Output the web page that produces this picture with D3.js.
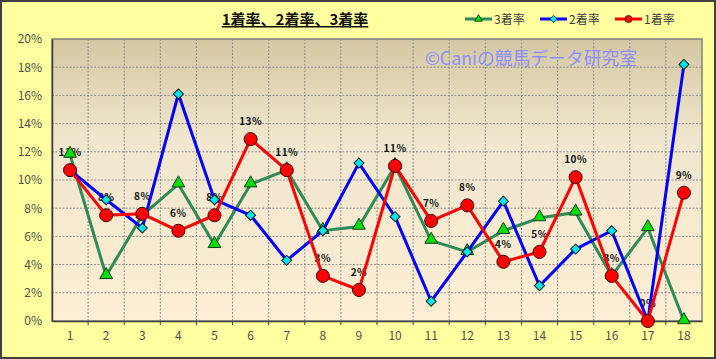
<!DOCTYPE html>
<html>
<head>
<meta charset="utf-8">
<script src="https://cdn.jsdelivr.net/npm/d3@7"></script>
<style>
  body { margin: 0; background: #fff; }
  svg { display: block; }
  text { font-family: "Noto Sans CJK JP", "Noto Sans", sans-serif; }
</style>
</head>
<body>
<div id="chart"></div>
<script>
var categories = [1, 2, 3, 4, 5, 6, 7, 8, 9, 10, 11, 12, 13, 14, 15, 16, 17, 18];
var win1 = [10.7, 7.5, 7.6, 6.4, 7.5, 12.9, 10.7, 3.2, 2.2, 11.0, 7.1, 8.2, 4.2, 4.9, 10.2, 3.2, 0, 9.1];
var win2 = [10.7, 8.6, 6.6, 16.1, 8.6, 7.5, 4.3, 6.4, 11.2, 7.4, 1.4, 4.9, 8.5, 2.5, 5.1, 6.4, 0, 18.2];
var win3 = [11.8, 3.2, 7.5, 9.7, 5.4, 9.7, 10.7, 6.4, 6.7, 11.0, 5.7, 4.9, 6.4, 7.3, 7.7, 3.2, 6.6, 0];
var yTicks = [0, 2, 4, 6, 8, 10, 12, 14, 16, 18, 20];
var seriesNames = ["3着率", "2着率", "1着率"];

var W = 716, H = 359;
var margin = { top: 39, right: 14, bottom: 38, left: 52 };

var svg = d3.select("#chart").append("svg")
  .attr("width", W)
  .attr("height", H);

var defs = svg.append("defs");
var grad = defs.append("linearGradient")
  .attr("id", "plotbg")
  .attr("x1", 0).attr("y1", 0).attr("x2", 0).attr("y2", 1);
grad.append("stop").attr("offset", "0%").attr("stop-color", "#d5c7a2");
grad.append("stop").attr("offset", "35%").attr("stop-color", "#efe6cd");
grad.append("stop").attr("offset", "100%").attr("stop-color", "#fdeed5");

// outer background
svg.append("rect")
  .attr("x", 1).attr("y", 1)
  .attr("width", W - 2).attr("height", H - 2)
  .attr("fill", "#ffff9f")
  .attr("stroke", "#404040")
  .attr("stroke-width", 2);

var pw = W - margin.left - margin.right;
var ph = H - margin.top - margin.bottom;

var x = d3.scaleBand().domain(categories).range([margin.left, margin.left + pw]);
var y = d3.scaleLinear().domain([0, 20]).range([margin.top + ph, margin.top]);
var cx = function (i) { return x(categories[i]) + x.bandwidth() / 2; };

svg.append("rect")
  .attr("x", margin.left).attr("y", margin.top)
  .attr("width", pw).attr("height", ph)
  .attr("fill", "url(#plotbg)")
  .attr("stroke", "#808080")
  .attr("stroke-width", 1.5);

// grid
svg.append("g").selectAll("line")
  .data(yTicks.filter(function (d) { return d > 0 && d < 20; }))
  .join("line")
  .attr("x1", margin.left).attr("x2", margin.left + pw)
  .attr("y1", function (d) { return y(d); })
  .attr("y2", function (d) { return y(d); })
  .attr("stroke", "#8c8c8c")
  .attr("stroke-dasharray", "2,1.5")
  .attr("stroke-width", 1);

svg.append("g").selectAll("line")
  .data(categories.slice(1))
  .join("line")
  .attr("x1", function (d) { return x(d); })
  .attr("x2", function (d) { return x(d); })
  .attr("y1", margin.top).attr("y2", margin.top + ph)
  .attr("stroke", "#8c8c8c")
  .attr("stroke-dasharray", "2,1.5")
  .attr("stroke-width", 1);

// watermark
svg.append("text")
  .attr("x", 425).attr("y", 65)
  .attr("font-size", 18)
  .attr("textLength", 212)
  .attr("lengthAdjust", "spacingAndGlyphs")
  .attr("fill", "#8c8eff")
  .text("©Caniの競馬データ研究室");

// axes
var yAxis = d3.axisLeft(y).tickValues(yTicks).tickSize(0).tickPadding(10)
  .tickFormat(function (d) { return d + "%"; });
var gy = svg.append("g").attr("transform", "translate(" + margin.left + ",0)").call(yAxis);
gy.select(".domain").attr("stroke", "#404040").attr("stroke-width", 1.5);
gy.selectAll("text").attr("font-size", 12).attr("fill", "#505050")
  .attr("font-family", "'Liberation Sans', Arial, sans-serif");

var xAxis = d3.axisBottom(x).tickSize(0).tickPadding(10);
var gx = svg.append("g").attr("transform", "translate(0," + (margin.top + ph) + ")").call(xAxis);
gx.select(".domain").attr("stroke", "#404040").attr("stroke-width", 1.5);
gx.selectAll("text").attr("font-size", 12).attr("fill", "#505050")
  .attr("font-family", "'Liberation Sans', Arial, sans-serif");
// small tick marks at category boundaries
svg.append("g").selectAll("line")
  .data(categories.slice(1))
  .join("line")
  .attr("x1", function (d) { return x(d); })
  .attr("x2", function (d) { return x(d); })
  .attr("y1", margin.top + ph).attr("y2", margin.top + ph + 4)
  .attr("stroke", "#404040");

// data labels for 1着率 (drawn under the markers)
svg.append("g").selectAll("text")
  .data(win1)
  .join("text")
  .attr("x", function (d, i) { return cx(i); })
  .attr("y", function (d) { return y(d) - 14; })
  .attr("text-anchor", "middle")
  .attr("font-size", 10)
  .attr("font-weight", "bold")
  .attr("fill", "#111")
  .attr("font-family", "'DejaVu Sans', sans-serif")
  .attr("letter-spacing", "0.5")
  .text(function (d) { return Math.round(d) + "%"; });

var line = d3.line()
  .x(function (d, i) { return cx(i); })
  .y(function (d) { return y(d); });

// 3着率
svg.append("path").datum(win3)
  .attr("d", line).attr("fill", "none")
  .attr("stroke", "#2e8b57").attr("stroke-width", 3);
var tri = d3.symbol().type(d3.symbolTriangle).size(70);
svg.append("g").selectAll("path")
  .data(win3)
  .join("path")
  .attr("d", tri)
  .attr("transform", function (d, i) { return "translate(" + cx(i) + "," + (y(d) - 1) + ")"; })
  .attr("fill", "#00e000").attr("stroke", "#1a3a1a").attr("stroke-width", 1);

// 2着率
svg.append("path").datum(win2)
  .attr("d", line).attr("fill", "none")
  .attr("stroke", "#0000ff").attr("stroke-width", 3);
var dia = d3.symbol().type(d3.symbolSquare).size(50);
svg.append("g").selectAll("path")
  .data(win2)
  .join("path")
  .attr("d", dia)
  .attr("transform", function (d, i) { return "translate(" + cx(i) + "," + y(d) + ") rotate(45)"; })
  .attr("fill", "#00e5ee").attr("stroke", "#1a1a1a").attr("stroke-width", 1);

// 1着率
svg.append("path").datum(win1)
  .attr("d", line).attr("fill", "none")
  .attr("stroke", "#ff0000").attr("stroke-width", 3);
svg.append("g").selectAll("circle")
  .data(win1)
  .join("circle")
  .attr("cx", function (d, i) { return cx(i); })
  .attr("cy", function (d) { return y(d); })
  .attr("r", 6.5)
  .attr("fill", "#ff0000").attr("stroke", "#3a0000").attr("stroke-width", 1);

// title
svg.append("text")
  .attr("x", 295).attr("y", 25)
  .attr("text-anchor", "middle")
  .attr("font-size", 15)
  .attr("font-weight", "bold")
  .attr("fill", "#111")
  .attr("text-decoration", "underline")
  .text("1着率、2着率、3着率");

// legend
var legendItems = [
  { name: seriesNames[0], color: "#2e8b57", marker: "tri", fill: "#00e000", x: 465 },
  { name: seriesNames[1], color: "#0000ff", marker: "dia", fill: "#00e5ee", x: 540 },
  { name: seriesNames[2], color: "#ff0000", marker: "circ", fill: "#ff0000", x: 615 }
];
var lg = svg.append("g").selectAll("g").data(legendItems).join("g")
  .attr("transform", function (d) { return "translate(" + d.x + ",19)"; });
lg.append("line").attr("x1", 0).attr("x2", 27).attr("y1", 0).attr("y2", 0)
  .attr("stroke", function (d) { return d.color; }).attr("stroke-width", 3);
lg.append("path")
  .attr("d", function (d) {
    var t = d.marker === "tri" ? d3.symbolTriangle : d.marker === "dia" ? d3.symbolSquare : d3.symbolCircle;
    return d3.symbol().type(t).size(d.marker === "circ" ? 40 : 26)();
  })
  .attr("transform", function (d) { return "translate(13.5,0)" + (d.marker === "dia" ? " rotate(45)" : ""); })
  .attr("fill", function (d) { return d.fill; })
  .attr("stroke", "#222").attr("stroke-width", 0.8);
lg.append("text").attr("x", 29).attr("y", 4.5)
  .attr("font-size", 12).attr("fill", "#404040")
  .text(function (d) { return d.name; });
</script>
</body>
</html>
